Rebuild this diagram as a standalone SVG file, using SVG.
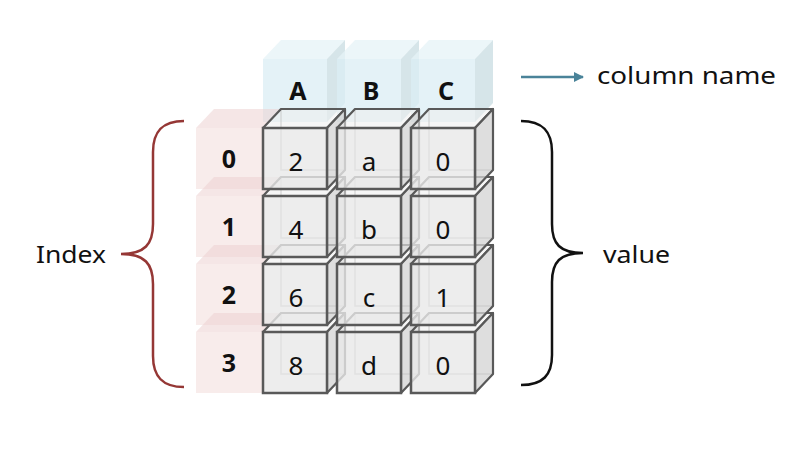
<svg xmlns="http://www.w3.org/2000/svg" width="804" height="470" viewBox="0 0 804 470">
<defs>
<style>
text{font-family:"Noto Sans","Open Sans","Liberation Sans",sans-serif;fill:#111}
.hf{fill:#dbeef4;opacity:.75}
.ht{fill:#e6f3f7;opacity:.75}
.hr{fill:#c8dce1;opacity:.75}
.pf{fill:#f2dcdb;opacity:.55}
.pt{fill:#ecd2d1;opacity:.55}
.vb{fill:none;stroke:#9a9a9a;stroke-width:1.5;opacity:.6}
.vt{fill:#efefef;fill-opacity:.55;stroke:#595959;stroke-width:2.2;stroke-linejoin:round}
.vr{fill:#d3d3d3;fill-opacity:.75;stroke:#595959;stroke-width:2.2;stroke-linejoin:round}
.vf{fill:#e8e8e8;fill-opacity:.8;stroke:#595959;stroke-width:2.5}
.hd{font-size:25px;font-weight:bold;text-anchor:middle}
.ix{font-size:25px;font-weight:bold;text-anchor:middle}
.val{font-size:26px;text-anchor:middle}
.lbl{font-size:23px}
</style>
<marker id="ah" viewBox="0 0 10 10" refX="9" refY="5" markerWidth="4" markerHeight="4" orient="auto">
<path d="M0,0 L10,5 L0,10 z" fill="#4a8399"/>
</marker>
<g id="hcube">
<rect class="hf" x="0" y="0" width="64" height="63"/>
<polygon class="ht" points="0,0 18,-19 82,-19 64,0"/>
<polygon class="hr" points="64,0 82,-19 82,44 64,63"/>
</g>
<g id="pcube">
<rect class="pf" x="0" y="0" width="66" height="61"/>
<polygon class="pt" points="0,0 18,-19 84,-19 66,0"/>
</g>
<g id="vcube">
<rect class="vb" x="18" y="-19" width="64" height="61"/>
<polygon class="vt" points="0,0 18,-19 82,-19 64,0"/>
<polygon class="vr" points="64,0 82,-19 82,42 64,61"/>
<rect class="vf" x="0" y="0" width="64" height="61"/>
</g>
</defs>
<rect width="804" height="470" fill="#fff"/>

<g id="headers">
<g id="hA"><use href="#hcube" x="263" y="59"/><text class="hd" x="298" y="100">A</text></g>
<g id="hB"><use href="#hcube" x="337" y="59"/><text class="hd" x="371" y="100">B</text></g>
<g id="hC"><use href="#hcube" x="411" y="59"/><text class="hd" x="446" y="100">C</text></g>
</g>

<g id="index">
<g id="i0"><use href="#pcube" x="196" y="128"/><text class="ix" x="229" y="168">0</text></g>
<g id="i1"><use href="#pcube" x="196" y="196"/><text class="ix" x="229" y="236">1</text></g>
<g id="i2"><use href="#pcube" x="196" y="264"/><text class="ix" x="229" y="304">2</text></g>
<g id="i3"><use href="#pcube" x="196" y="332"/><text class="ix" x="229" y="372">3</text></g>
</g>

<g id="values">
<g id="vA3"><use href="#vcube" x="263" y="332"/><text class="val" x="296" y="375">8</text></g>
<g id="vB3"><use href="#vcube" x="337" y="332"/><text class="val" x="369" y="375">d</text></g>
<g id="vC3"><use href="#vcube" x="411" y="332"/><text class="val" x="443" y="375">0</text></g>
<g id="vA2"><use href="#vcube" x="263" y="264"/><text class="val" x="296" y="307">6</text></g>
<g id="vB2"><use href="#vcube" x="337" y="264"/><text class="val" x="369" y="307">c</text></g>
<g id="vC2"><use href="#vcube" x="411" y="264"/><text class="val" x="443" y="307">1</text></g>
<g id="vA1"><use href="#vcube" x="263" y="196"/><text class="val" x="296" y="239">4</text></g>
<g id="vB1"><use href="#vcube" x="337" y="196"/><text class="val" x="369" y="239">b</text></g>
<g id="vC1"><use href="#vcube" x="411" y="196"/><text class="val" x="443" y="239">0</text></g>
<g id="vA0"><use href="#vcube" x="263" y="128"/><text class="val" x="296" y="171">2</text></g>
<g id="vB0"><use href="#vcube" x="337" y="128"/><text class="val" x="369" y="171">a</text></g>
<g id="vC0"><use href="#vcube" x="411" y="128"/><text class="val" x="443" y="171">0</text></g>
</g>

<g id="connectors">
<path id="braceL" d="M184,121 C162,121 153,132 153,152 L153,224 C153,244 145,254 121,254 C145,254 153,264 153,284 L153,356 C153,376 162,387 184,387" fill="none" stroke="#953735" stroke-width="2.5"/>
<path id="braceR" d="M521,121 C543,121 552,132 552,152 L552,224 C552,244 560,253 583,253 C560,253 552,262 552,282 L552,355 C552,375 543,385 521,385" fill="none" stroke="#111" stroke-width="2.5"/>
<line id="arrowCol" x1="521" y1="77" x2="583" y2="77" stroke="#4a8399" stroke-width="2.5" marker-end="url(#ah)"/>
</g>

<g id="labels">
<text id="lblIndex" class="lbl" x="36" y="263" textLength="70" lengthAdjust="spacingAndGlyphs">Index</text>
<text id="lblValue" class="lbl" x="603" y="263" textLength="67" lengthAdjust="spacingAndGlyphs">value</text>
<text id="lblCol" class="lbl" x="597" y="84" textLength="179" lengthAdjust="spacingAndGlyphs">column name</text>
</g>
</svg>
